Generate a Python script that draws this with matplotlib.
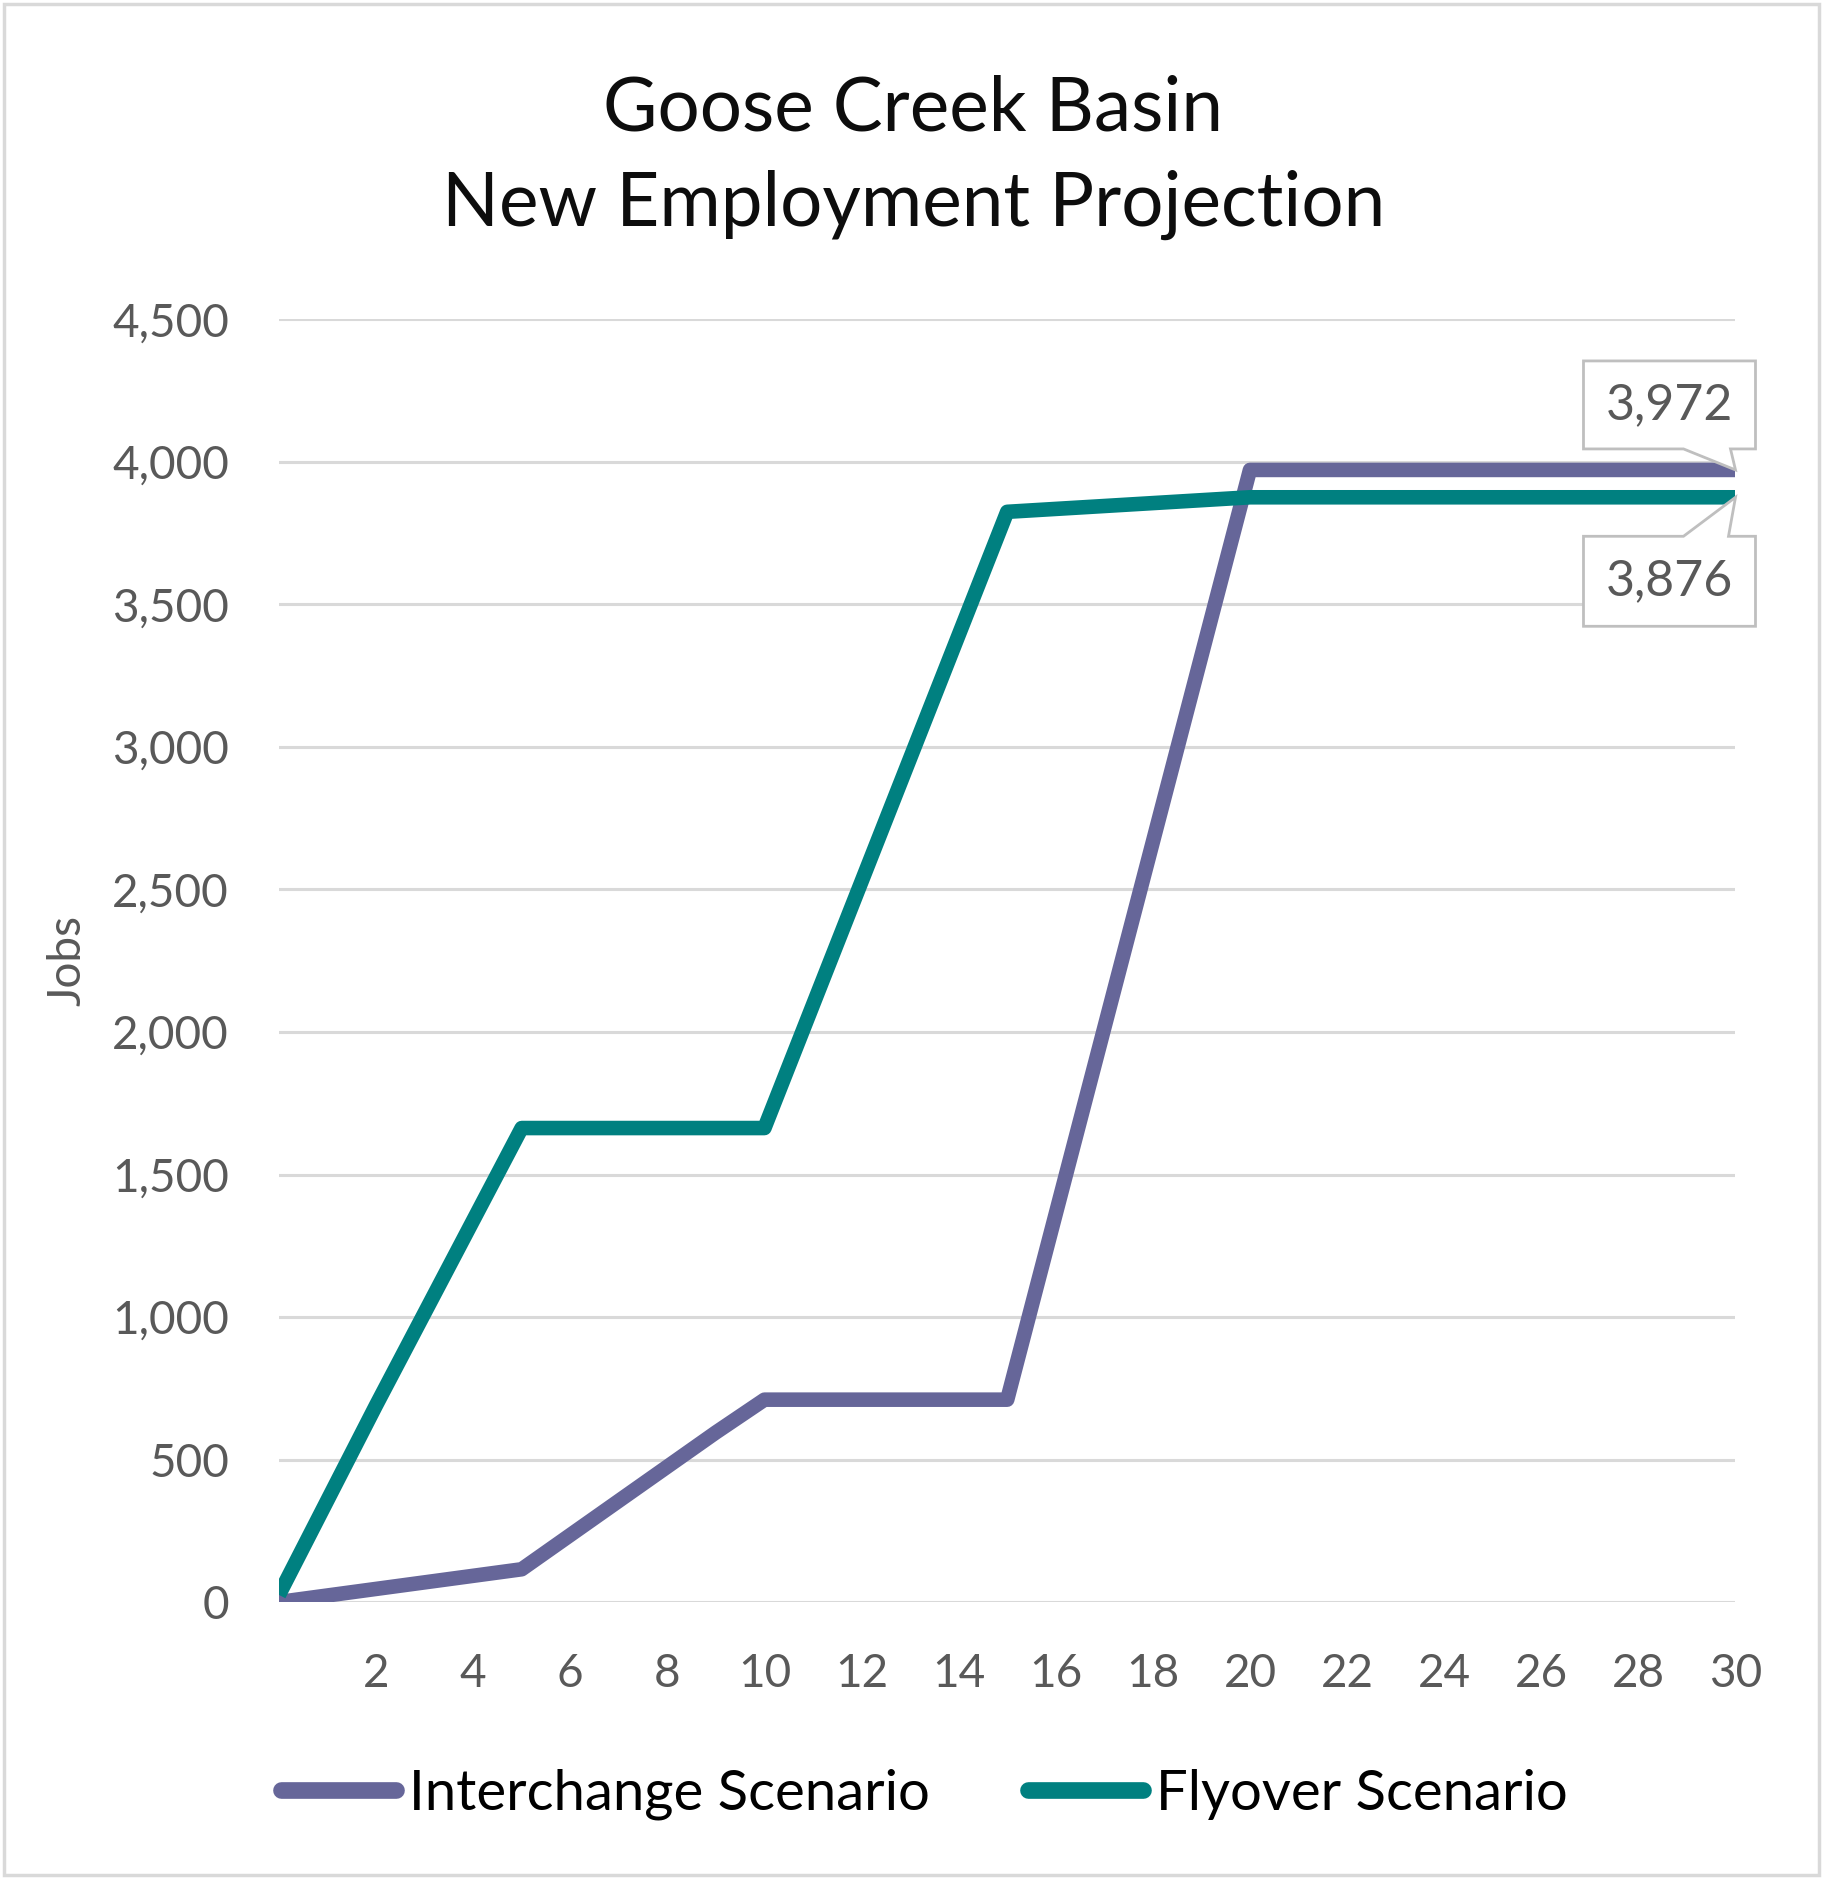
import numpy as np
import matplotlib
matplotlib.use('Agg')
import matplotlib.pyplot as plt
from matplotlib.patches import Polygon, Rectangle
from matplotlib.transforms import ScaledTranslation
from matplotlib.ticker import FuncFormatter

plt.rcParams['font.family'] = ['Lato', 'DejaVu Sans']

# data (breakpoints of each series)
interchange_years = [0, 5, 9, 10, 15, 20, 30]
interchange_jobs = [0, 115, 595, 710, 710, 3972, 3972]
flyover_years = [0, 2, 5, 10, 15, 20, 30]
flyover_jobs = [25, 690, 1663, 1663, 3825, 3876, 3876]

series_names = ['Interchange Scenario', 'Flyover Scenario']
series_colors = ['#666699', '#008080']
end_labels = ['3,972', '3,876']

title_lines = ['Goose Creek Basin', 'New Employment Projection']
x_ticks = list(range(2, 31, 2))
y_ticks = list(range(0, 4501, 500))

GRAY = '#595959'

fig = plt.figure(figsize=(18.23, 18.79), dpi=100)
ax = fig.add_axes([0.153, 0.1474, 0.799, 0.6826])

# outer chart border
fig.patches.append(Rectangle((0.002, 0.002), 0.996, 0.996, transform=fig.transFigure,
                             fill=False, ec='#D9D9D9', lw=2.5))

lines = []
for xs, ys, name, col in zip([interchange_years, flyover_years],
                             [interchange_jobs, flyover_jobs],
                             series_names, series_colors):
    ln, = ax.plot(xs, ys, color=col, lw=10.5, label=name,
                  solid_joinstyle='round', solid_capstyle='butt', zorder=3)
    lines.append(ln)

ax.set_xlim(0, 30)
ax.set_ylim(0, 4500)
ax.set_xticks(x_ticks)
ax.set_yticks(y_ticks)
ax.yaxis.set_major_formatter(FuncFormatter(lambda v, p: f'{int(v):,}'))
ax.grid(axis='y', color='#D9D9D9', lw=2.2)
ax.set_axisbelow(True)
for s in ax.spines.values():
    s.set_visible(False)
ax.tick_params(axis='both', length=0, labelsize=33, labelcolor=GRAY)
ax.tick_params(axis='x', pad=37)
ax.tick_params(axis='y', pad=36)

ax.set_ylabel('Jobs', fontsize=33, color=GRAY)
ax.yaxis.set_label_coords(-0.131, 0.5)

fig.text(0.501, 0.942, title_lines[0], ha='center', va='center', fontsize=53.7, color='#0D0D0D')
fig.text(0.501, 0.891, title_lines[1], ha='center', va='center', fontsize=53.7, color='#0D0D0D')

# callouts for the last values (shape in pixels relative to the data point)
shapes = [
    ([(-152, 21), (-52, 21), (0, 0), (-5, 21), (20, 21), (20, 109), (-152, 109)], (-66, 65)),
    ([(-152, -39), (-52, -39), (0, 0), (-7, -39), (20, -39), (20, -129), (-152, -129)], (-66, -84)),
]
for xs, ys, lab, (verts, tpos) in zip([interchange_years, flyover_years],
                                      [interchange_jobs, flyover_jobs],
                                      end_labels, shapes):
    trans = fig.dpi_scale_trans + ScaledTranslation(xs[-1], ys[-1], ax.transData)
    poly = Polygon(np.array(verts) / 100.0, closed=True, transform=trans,
                   fc='white', ec='#BFBFBF', lw=2, clip_on=False, zorder=5)
    ax.add_patch(poly)
    ax.text(tpos[0] / 100.0, tpos[1] / 100.0, lab, transform=trans, ha='center', va='center',
            fontsize=36, color=GRAY, zorder=6, clip_on=False)

leg = fig.legend(handles=lines, loc='center', bbox_to_anchor=(0.507, 0.045), ncol=2,
                 frameon=False, fontsize=40.5, handlelength=2.05, handletextpad=0.22,
                 columnspacing=1.75)
for h in leg.legend_handles:
    h.set_solid_capstyle('round')
    h.set_linewidth(12)

fig.savefig('out.png', dpi=100, facecolor='white')
